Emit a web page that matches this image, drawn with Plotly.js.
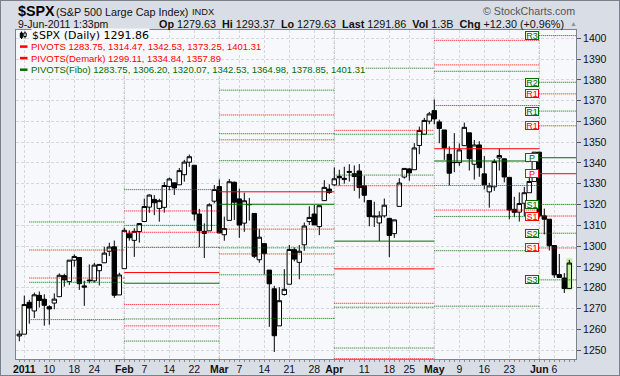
<!DOCTYPE html>
<html><head><meta charset="utf-8">
<script src="https://cdn.plot.ly/plotly-3.0.1.min.js"></script>
<style>
html,body{margin:0;padding:0;background:#d9dde6;}
#wrap{position:relative;width:620px;height:376px;overflow:hidden;}
#chart{width:620px;height:376px;}
#frame{position:absolute;left:0;top:0;width:618px;height:374px;border:1px solid #7b808c;pointer-events:none;}
</style></head><body>
<div id="wrap"><div id="chart"></div><div id="frame"></div></div>
<script>
// ---------- daily data ($SPX) ----------
const dates = ['2010-12-31',
'2011-01-03','2011-01-04','2011-01-05','2011-01-06','2011-01-07','2011-01-10','2011-01-11','2011-01-12','2011-01-13','2011-01-14','2011-01-18','2011-01-19','2011-01-20','2011-01-21','2011-01-24','2011-01-25','2011-01-26','2011-01-27','2011-01-28','2011-01-31',
'2011-02-01','2011-02-02','2011-02-03','2011-02-04','2011-02-07','2011-02-08','2011-02-09','2011-02-10','2011-02-11','2011-02-14','2011-02-15','2011-02-16','2011-02-17','2011-02-18','2011-02-22','2011-02-23','2011-02-24','2011-02-25','2011-02-28',
'2011-03-01','2011-03-02','2011-03-03','2011-03-04','2011-03-07','2011-03-08','2011-03-09','2011-03-10','2011-03-11','2011-03-14','2011-03-15','2011-03-16','2011-03-17','2011-03-18','2011-03-21','2011-03-22','2011-03-23','2011-03-24','2011-03-25','2011-03-28','2011-03-29','2011-03-30','2011-03-31',
'2011-04-01','2011-04-04','2011-04-05','2011-04-06','2011-04-07','2011-04-08','2011-04-11','2011-04-12','2011-04-13','2011-04-14','2011-04-15','2011-04-18','2011-04-19','2011-04-20','2011-04-21','2011-04-25','2011-04-26','2011-04-27','2011-04-28','2011-04-29',
'2011-05-02','2011-05-03','2011-05-04','2011-05-05','2011-05-06','2011-05-09','2011-05-10','2011-05-11','2011-05-12','2011-05-13','2011-05-16','2011-05-17','2011-05-18','2011-05-19','2011-05-20','2011-05-23','2011-05-24','2011-05-25','2011-05-26','2011-05-27','2011-05-31',
'2011-06-01','2011-06-02','2011-06-03','2011-06-06','2011-06-07','2011-06-08','2011-06-09'];

const opens = [1256.76,
1257.62,1272.95,1268.78,1276.29,1274.41,1270.84,1272.58,1275.65,1285.78,1282.90,1293.22,1294.52,1280.85,1283.63,1283.29,1288.17,1291.97,1297.51,1299.63,1276.50,
1289.14,1305.91,1302.77,1307.01,1311.85,1318.76,1322.48,1318.13,1318.66,1328.73,1330.43,1329.51,1334.37,1340.38,1338.91,1315.44,1307.09,1307.34,1321.61,
1328.64,1305.47,1312.37,1330.73,1322.72,1311.05,1319.92,1315.72,1293.43,1301.19,1288.46,1279.46,1261.61,1276.71,1281.65,1298.29,1292.19,1300.61,1311.80,1315.45,1309.37,1321.89,1327.44,
1329.48,1333.56,1332.03,1335.94,1334.82,1336.16,1329.01,1321.96,1314.03,1311.13,1314.54,1313.35,1305.99,1319.12,1333.23,1337.14,1336.75,1348.43,1353.86,1360.14,
1365.21,1359.76,1355.90,1344.16,1340.24,1340.20,1348.34,1354.51,1339.39,1348.69,1334.77,1326.10,1328.54,1342.40,1342.00,1333.07,1317.70,1316.36,1320.64,1325.69,1331.10,
1345.20,1314.55,1312.94,1300.26,1286.31,1284.63,1279.63];

const highs = [1259.34,
1276.17,1274.12,1277.63,1278.17,1276.83,1271.52,1277.25,1286.87,1286.70,1293.24,1296.06,1294.60,1283.35,1291.21,1291.93,1291.26,1299.74,1301.63,1302.67,1287.17,
1308.86,1307.61,1308.60,1311.00,1322.85,1324.87,1324.54,1322.78,1330.79,1332.96,1330.43,1337.61,1341.50,1344.07,1338.91,1317.91,1310.91,1320.61,1329.38,
1332.09,1314.19,1332.28,1331.08,1327.68,1325.74,1323.21,1315.72,1308.35,1301.19,1288.46,1280.91,1280.26,1288.88,1300.58,1299.35,1300.51,1311.34,1319.18,1319.74,1319.45,1331.74,1329.77,
1337.85,1336.74,1338.21,1339.38,1338.80,1339.46,1333.77,1321.96,1321.35,1316.79,1322.88,1313.35,1312.70,1332.66,1337.49,1337.55,1349.55,1357.49,1361.71,1364.56,
1370.58,1360.84,1355.90,1348.00,1354.36,1349.44,1359.44,1354.51,1351.05,1350.47,1343.33,1330.42,1341.82,1346.82,1342.00,1333.07,1323.72,1325.86,1328.51,1334.62,1345.20,
1345.20,1318.03,1312.94,1300.26,1296.22,1287.04,1293.37];

const lows = [1254.19,
1257.62,1262.66,1265.36,1270.43,1261.70,1262.18,1269.62,1275.65,1280.47,1281.24,1290.16,1278.92,1271.26,1282.07,1282.47,1281.07,1291.97,1295.21,1275.10,1276.50,
1289.14,1302.62,1294.83,1301.67,1311.85,1316.03,1314.89,1311.74,1316.08,1326.90,1324.61,1329.51,1331.00,1338.12,1312.33,1299.55,1294.26,1307.34,1320.55,
1306.14,1302.58,1312.37,1312.59,1303.99,1306.86,1312.27,1294.21,1291.99,1286.37,1261.12,1249.05,1261.61,1276.18,1281.65,1292.70,1284.05,1297.74,1310.15,1310.19,1305.26,1321.89,1325.03,
1328.89,1329.10,1330.03,1331.09,1326.56,1322.94,1321.06,1309.51,1309.19,1302.42,1313.68,1294.70,1303.97,1319.12,1332.48,1331.47,1336.75,1344.25,1353.60,1358.69,
1358.59,1349.52,1341.50,1329.17,1335.58,1338.64,1348.34,1336.36,1332.03,1333.36,1327.32,1318.51,1326.59,1336.36,1330.67,1312.88,1313.87,1311.80,1314.41,1325.69,1331.10,
1313.71,1305.61,1297.90,1284.72,1284.74,1277.42,1279.63];

const closes = [1257.64,
1271.87,1270.20,1276.56,1273.85,1271.50,1269.75,1274.48,1285.96,1283.76,1293.24,1295.02,1281.92,1280.26,1283.35,1290.84,1291.18,1296.63,1299.54,1276.34,1286.12,
1307.59,1304.03,1307.10,1310.87,1319.05,1324.57,1320.88,1321.87,1329.15,1332.32,1328.01,1336.32,1340.43,1343.01,1315.44,1307.40,1306.10,1319.88,1327.22,
1306.33,1308.44,1330.97,1321.15,1310.13,1321.82,1320.02,1295.11,1304.28,1296.39,1281.87,1256.88,1273.72,1279.21,1298.38,1293.77,1297.54,1309.66,1313.80,1310.19,1319.44,1328.26,1325.83,
1332.41,1332.87,1332.63,1335.54,1333.51,1328.17,1324.46,1314.16,1314.41,1314.52,1319.68,1305.14,1312.62,1330.36,1337.38,1335.25,1347.24,1355.66,1360.48,1363.61,
1361.22,1356.62,1347.32,1335.10,1340.20,1346.29,1357.16,1342.08,1348.65,1337.77,1329.47,1328.98,1340.68,1343.60,1333.27,1317.37,1316.28,1320.47,1325.69,1331.10,1345.20,
1314.55,1312.94,1300.16,1286.17,1284.94,1279.56,1291.86];

// ---------- monthly pivot levels (Jan..Jun) ----------
const months    = ['Jan','Feb','Mar','Apr','May','Jun'];
const segStarts = ['2011-01-04','2011-02-01','2011-03-01','2011-04-01','2011-05-02','2011-06-01'];
// standard pivots (red)
const pS2 = [1159.61,1237.09,1265.21,1219.16,1271.10,1283.75];
const pS1 = [1208.63,1261.60,1296.22,1272.49,1317.35,1314.47];
const pP  = [1235.61,1282.14,1320.14,1302.39,1340.96,1342.53];
const pR1 = [1284.63,1306.65,1351.15,1355.72,1387.21,1373.25];
const pR2 = [1311.61,1327.19,1375.07,1385.62,1410.82,1401.31];
// Demark pivots (red)
const dS1 = [1222.12,1271.87,1308.18,1245.83,1329.16,1299.11];
const dP  = [1242.36,1287.27,1326.13,1289.05,1346.86,1334.84];
const dR1 = [1298.12,1316.92,1363.11,1329.06,1399.02,1357.89];
// Fibonacci pivots (green)
const fS3 = [1159.61,1237.09,1265.21,1219.16,1271.10,1283.75];
const fS2 = [1188.64,1254.30,1286.19,1250.95,1297.79,1306.20];
const fS1 = [1206.58,1264.93,1299.16,1270.60,1314.27,1320.07];
const fP  = [1235.61,1282.14,1320.14,1302.39,1340.96,1342.53];
const fR1 = [1264.64,1299.35,1341.12,1334.18,1367.65,1364.98];
const fR2 = [1282.58,1309.98,1354.09,1353.83,1384.13,1378.85];
const fR3 = [1311.61,1327.19,1375.07,1385.62,1410.82,1401.31];

// ---------- axis ticks ----------
const tickDates  = ['2011-01-03','2011-01-10','2011-01-18','2011-01-24','2011-02-01','2011-02-07','2011-02-14','2011-02-22','2011-03-01','2011-03-07','2011-03-14','2011-03-21','2011-03-28','2011-04-01','2011-04-11','2011-04-18','2011-04-25','2011-05-02','2011-05-09','2011-05-16','2011-05-23','2011-06-01','2011-06-06'];
const tickLabels = ['2011','10','18','24','Feb','7','14','22','Mar','7','14','21','28','Apr','11','18','25','May','9','16','23','Jun','6'];
const boldLabels = ['2011','Feb','Mar','Apr','May','Jun'];
const yTicks = [1250,1260,1270,1280,1290,1300,1310,1320,1330,1340,1350,1360,1370,1380,1390,1400];

// ---------- build ----------
const RED = '#ff0000', GREEN = '#006f00';
const XMIN = -0.66, XMAX = 111.34;
const idx = d => dates.indexOf(d);
const xs = dates.map((d,i)=>i);
const last = dates.length - 1;
const segX0 = segStarts.map(idx);
const segX1 = segX0.slice(1).concat([XMAX + 1]);
const fibAll = [fS3,fS2,fS1,fP,fR1,fR2,fR3];

function segTrace(levels, color, dash, skipFib){
  const x=[], y=[];
  levels.forEach((v,m)=>{
    // a red level identical to a green Fibonacci level is hidden under it
    if(skipFib && fibAll.some(a=>Math.abs(a[m]-v)<0.005)) return;
    x.push(segX0[m], segX1[m], null); y.push(v, v, null);
  });
  return {type:'scatter', mode:'lines', x, y, line:{color, width:1, dash}, hoverinfo:'skip', showlegend:false};
}
const DOT = '1px,1px';
const traces = [];
[pS2,pS1,pR1,pR2,dS1,dR1].forEach(a=>traces.push(segTrace(a, RED, DOT, true)));
[pP,dP].forEach(a=>traces.push(segTrace(a, RED, 'solid', true)));
[fS3,fS2,fS1,fR1,fR2,fR3].forEach(a=>traces.push(segTrace(a, GREEN, DOT, false)));
traces.push(segTrace(fP, GREEN, 'solid', false));

traces.push({type:'candlestick', x:xs.slice(0,last), open:opens.slice(0,last), high:highs.slice(0,last),
  low:lows.slice(0,last), close:closes.slice(0,last), whiskerwidth:0, hoverinfo:'skip', showlegend:false,
  increasing:{line:{color:'#000',width:1}, fillcolor:'#ffffff'},
  decreasing:{line:{color:'#000',width:1}, fillcolor:'#000000'}});
traces.push({type:'candlestick', x:[xs[last]], open:[opens[last]], high:[highs[last]], low:[lows[last]], close:[closes[last]],
  whiskerwidth:0, hoverinfo:'skip', showlegend:false,
  increasing:{line:{color:'#000',width:1}, fillcolor:'#c6f2a4'},
  decreasing:{line:{color:'#000',width:1}, fillcolor:'#000000'}});

// pixel helpers for decorations
const PL=16, PW=560, PT=30, PH=329, PB=PT+PH;
const px = v => (v-PL)/PW, py = v => (PB-v)/PH;
const SANS = 'Liberation Sans, Arial, sans-serif';
const PLOTBG = '#f7f8fc';
function txt(text, x, y, size, color, anchor, family, bg){
  const a = {xref:'paper', yref:'paper', x:px(x), y:py(y), xanchor:anchor||'left', yanchor:'middle', showarrow:false,
    text, font:{family:family||SANS, size, color:color||'#000'}};
  if(bg){ a.bgcolor = bg; a.borderpad = 0; }
  return a;
}
const f2 = a => a.map(v=>v.toFixed(2)).join(', ');
const J = 5;
const annotations = [
  txt('<b>$SPX</b>', 15.5, 11, 14.3, '#000'),
  txt('(S&amp;P 500 Large Cap Index)', 54, 11.5, 10.8, '#111'),
  txt('INDX', 190, 11.5, 9.3, '#111'),
  txt('© StockCharts.com', 577, 11, 10.7, '#555', 'right'),
  txt('9-Jun-2011 1:33pm', 16, 24, 10.5, '#111'),
  txt('<b>Op</b> 1279.63 \u00a0<b>Hi</b> 1293.37 \u00a0<b>Lo</b> 1279.63 \u00a0<b>Last</b> 1291.86 \u00a0<b>Vol</b> 1.3B \u00a0<b>Chg</b> +12.30 (+0.96%)', 566, 24, 10.8, '#111', 'right'),
  txt('▲', 568, 23.5, 7, '#8d939e'),
  txt('$SPX (Daily) ' + closes[last].toFixed(2), 31, 35.3, 11, '#000', 'left', 'DejaVu Sans, Verdana, sans-serif', PLOTBG),
  txt('PIVOTS ' + f2([pS2[J],pS1[J],pP[J],pR1[J],pR2[J]]), 29.5, 46.6, 9.5, RED, 'left', SANS, PLOTBG),
  txt('PIVOTS(Demark) ' + f2([dS1[J],dP[J],dR1[J]]), 29.5, 58.1, 9.5, RED, 'left', SANS, PLOTBG),
  txt('PIVOTS(Fibo) ' + f2([fS3[J],fS2[J],fS1[J],fP[J],fR1[J],fR2[J],fR3[J]]), 29.5, 69.7, 9.5, GREEN, 'left', SANS, PLOTBG)
];
// June level tags
const junTags = [['R3',fR3,GREEN],['R2',fR2,GREEN],['R1',pR1,RED],['R1',fR1,GREEN],['R1',dR1,RED],
  ['P',fP,GREEN],['P',dP,RED],['S1',fS1,GREEN],['S1',pS1,RED],['S2',fS2,GREEN],['S1',dS1,RED],['S3',fS3,GREEN]];
junTags.forEach(([t,arr,c])=>{
  annotations.push({xref:'x', yref:'y', x:segX0[J]-0.15, y:arr[J], xanchor:'right', yanchor:'middle', showarrow:false,
    text:t, font:{family:SANS, size:9, color:c}, bordercolor:c, borderwidth:1, borderpad:0, bgcolor:'#f5f6f5', width:12, height:7});
});

const shapes = [];
// month separators
segX0.slice(1).forEach(x=>shapes.push({type:'line', xref:'x', yref:'paper', x0:x, x1:x, y0:0, y1:1,
  line:{color:'#a9abb0', width:1, dash:'3px,2px'}, layer:'below'}));
// highlight of last bar
shapes.push({type:'rect', xref:'x', yref:'y', x0:xs[last]-0.62, x1:xs[last]+0.62, y0:lows[last]-0.8, y1:highs[last]+0.8,
  fillcolor:'#c6f2a4', line:{width:0}, layer:'below'});
// legend dashes
[[46.6,RED],[58.1,RED],[69.7,GREEN]].forEach(([y,c])=>shapes.push({type:'line', xref:'paper', yref:'paper',
  x0:px(20), x1:px(27.5), y0:py(y), y1:py(y), line:{color:c, width:2.5}}));
// legend candle icon
shapes.push({type:'line', xref:'paper', yref:'paper', x0:px(21.5), x1:px(21.5), y0:py(31.5), y1:py(39), line:{color:'#000', width:1}});
shapes.push({type:'rect', xref:'paper', yref:'paper', x0:px(20.3), x1:px(22.7), y0:py(33), y1:py(37.5), fillcolor:'#000', line:{color:'#000', width:1}});
shapes.push({type:'line', xref:'paper', yref:'paper', x0:px(25), x1:px(25), y0:py(31.5), y1:py(38.5), line:{color:'#000', width:1}});
shapes.push({type:'rect', xref:'paper', yref:'paper', x0:px(23.8), x1:px(26.2), y0:py(33), y1:py(36.5), fillcolor:'#fff', line:{color:'#000', width:1}});

const layout = {
  width:620, height:376,
  margin:{l:PL, r:620-PL-PW, t:PT, b:376-PB, pad:0},
  paper_bgcolor:'#d9dde6', plot_bgcolor:PLOTBG,
  showlegend:false, boxgap:0.12, boxgroupgap:0,
  xaxis:{type:'linear', range:[XMIN, XMAX], tickmode:'array', tickvals:tickDates.map(idx),
    ticktext:tickLabels.map(t=>boldLabels.includes(t)?'<b>'+t+'</b>':t),
    showgrid:true, gridcolor:'#d7d8db', griddash:'3px,2px', gridwidth:1, zeroline:false,
    showline:true, linecolor:'#7d828e', linewidth:1, mirror:true, ticks:'',
    tickfont:{family:SANS, size:10.5, color:'#111'}, rangeslider:{visible:false}, fixedrange:true,
    minor:{tickmode:'linear', tick0:0, dtick:1, ticks:'outside', ticklen:2, tickcolor:'#8a8a8a', showgrid:false}},
  yaxis:{side:'right', range:[1245.67, 1404.0], tickmode:'array', tickvals:yTicks,
    showgrid:true, gridcolor:'#d7d8db', griddash:'3px,2px', gridwidth:1, zeroline:false,
    showline:true, linecolor:'#7d828e', linewidth:1, mirror:true, ticks:'outside', ticklen:4, tickcolor:'#555',
    tickfont:{family:SANS, size:10.5, color:'#111'}, fixedrange:true},
  annotations, shapes
};
Plotly.newPlot('chart', traces, layout, {staticPlot:true, displayModeBar:false});
</script>
</body></html>
